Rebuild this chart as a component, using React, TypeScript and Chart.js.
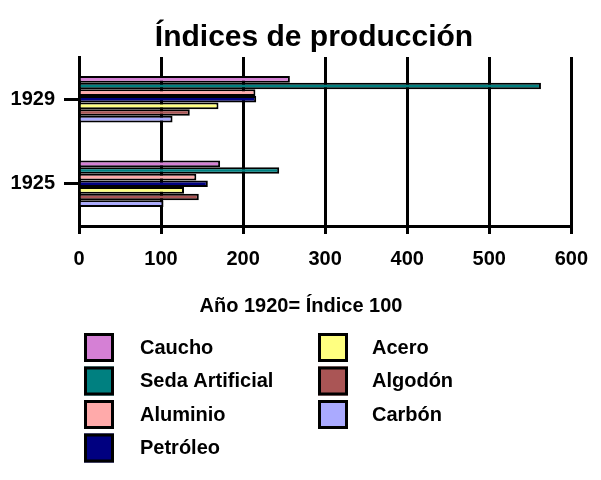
import React, { useEffect, useRef } from "react";
import { Chart, registerables } from "chart.js";

Chart.register(...registerables);

const TITLE = "Índices de producción";
const X_TITLE = "Año 1920= Índice 100";
const CATEGORIES = ["1929", "1925"];
const SERIES_NAMES = ["Caucho", "Seda Artificial", "Aluminio", "Petróleo", "Acero", "Algodón", "Carbón"];
const SERIES_COLORS = ["#d580d5", "#008080", "#ffaaaa", "#000080", "#ffff80", "#aa5555", "#aaaaff"];
const CAUCHO = [257, 172];
const SEDA = [563, 244];
const ALUMINIO = [215, 143];
const PETROLEO = [216, 157];
const ACERO = [170, 128];
const ALGODON = [135, 146];
const CARBON = [114, 103];
const SERIES_VALUES = [CAUCHO, SEDA, ALUMINIO, PETROLEO, ACERO, ALGODON, CARBON];
const X_MIN = 0;
const X_MAX = 600;
const X_STEP = 100;

const FONT = "'Liberation Sans', Arial, sans-serif";

const customText = {
  id: "customText",
  afterDraw(chart: any) {
    const ctx = chart.ctx;
    ctx.save();
    // chart title
    ctx.font = `bold 30px ${FONT}`;
    ctx.fillStyle = "#000";
    ctx.textAlign = "center";
    ctx.textBaseline = "alphabetic";
    ctx.fillText(TITLE, 314, 46);
    // x axis title
    ctx.font = `bold 20px ${FONT}`;
    ctx.fillText(X_TITLE, 301, 312);
    // legend in two columns
    const ds = chart.data.datasets;
    const cols = [
      { bx: 84, tx: 140 },
      { bx: 318, tx: 372 },
    ];
    const perCol = 4;
    ds.forEach((d: any, i: number) => {
      const col = cols[Math.floor(i / perCol)];
      const row = i % perCol;
      const top = 333 + row * 33.5;
      ctx.fillStyle = d.backgroundColor;
      ctx.fillRect(col.bx, top, 30, 29);
      ctx.lineWidth = 3;
      ctx.strokeStyle = "#000";
      ctx.strokeRect(col.bx + 1.5, top + 1.5, 27, 26);
      ctx.fillStyle = "#000";
      ctx.font = `bold 20px ${FONT}`;
      ctx.textAlign = "left";
      ctx.textBaseline = "middle";
      ctx.fillText(d.label, col.tx, top + 15);
    });
    ctx.restore();
  },
};

export default function App() {
  const ref = useRef<HTMLCanvasElement>(null);
  useEffect(() => {
    if (!ref.current) return;
    Chart.defaults.font.family = FONT;
    const chart = new Chart(ref.current, {
      type: "bar",
      data: {
        labels: CATEGORIES,
        datasets: SERIES_NAMES.map((name, i) => ({
          label: name,
          data: SERIES_VALUES[i],
          backgroundColor: SERIES_COLORS[i],
          borderColor: "#000",
          borderWidth: 2,
          categoryPercentage: 0.55,
          barPercentage: 1,
        })),
      },
      options: {
        indexAxis: "y",
        responsive: false,
        animation: false,
        layout: { padding: { top: 57, left: 0, right: 28, bottom: 0 } },
        plugins: {
          legend: { display: false },
          tooltip: { enabled: false },
          title: { display: false },
        },
        scales: {
          x: {
            min: X_MIN,
            max: X_MAX,
            ticks: {
              stepSize: X_STEP,
              color: "#000",
              font: { size: 20, weight: "bold", family: FONT },
              padding: 13,
            },
            grid: {
              color: "#000",
              lineWidth: 3,
              tickLength: 8,
              drawOnChartArea: true,
            },
            border: { display: true, color: "#000", width: 3 },
            afterFit: (s: any) => {
              s.height = 254;
            },
          },
          y: {
            ticks: {
              color: "#000",
              font: { size: 20, weight: "bold", family: FONT },
              padding: 9,
            },
            grid: {
              color: "#000",
              lineWidth: 3,
              tickLength: 15,
              drawOnChartArea: false,
              offset: false,
            },
            border: { display: true, color: "#000", width: 3 },
            afterFit: (s: any) => {
              s.width = 79;
            },
          },
        },
      },
      plugins: [customText],
    } as any);
    return () => chart.destroy();
  }, []);
  return (
    <div style={{ position: "fixed", left: 0, top: 0, width: 601, height: 480, background: "#fff" }}>
      <canvas ref={ref} width={601} height={480} style={{ display: "block" }} />
    </div>
  );
}
